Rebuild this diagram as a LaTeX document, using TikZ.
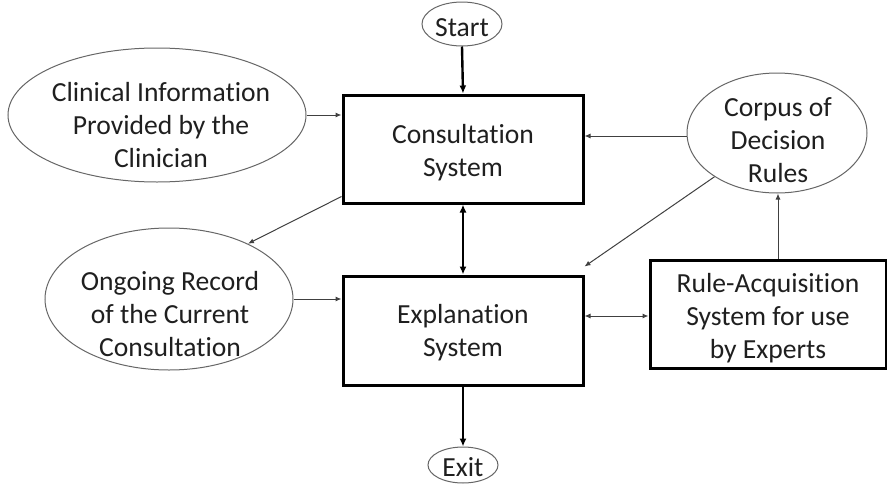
\documentclass[tikz,border=0pt]{standalone}
\usepackage{fontspec}
\setmainfont[Ligatures=NoCommon]{Carlito}
\usetikzlibrary{shapes.geometric,arrows.meta}
\begin{document}
\begin{tikzpicture}[x=1pt,y=-1pt,
  every node/.style={font=\fontsize{27.6}{33}\selectfont, text=black!88, align=center, inner sep=0pt},
  oval/.style={ellipse, draw=black!60, line width=1pt},
  sysbox/.style={rectangle, draw=black, line width=3pt},
  thick arrow/.style={line width=2.4pt, -{Latex[length=8pt,width=7pt]}},
  thin arrow/.style={line width=1pt, draw=black!75, -{Latex[length=6pt,width=5pt]}},
  thin both/.style={line width=1pt, draw=black!75, {Latex[length=6pt,width=5pt]}-{Latex[length=6pt,width=5pt]}},
  thick both/.style={line width=2.4pt, {Latex[length=8pt,width=7pt]}-{Latex[length=8pt,width=7pt]}}]
\useasboundingbox (0,0) rectangle (887,485);
% shapes
\node[oval, minimum width=80pt, minimum height=44pt] (start) at (462,24) {};
\node[sysbox, minimum width=240pt, minimum height=108pt] (consult) at (463,149) {};
\node[oval, minimum width=298pt, minimum height=134pt] (clin) at (157,115) {};
\node[oval, minimum width=180pt, minimum height=120pt] (corpus) at (777,133) {};
\node[oval, minimum width=248pt, minimum height=142pt] (ongoing) at (169,299) {};
\node[sysbox, minimum width=240pt, minimum height=109pt] (expl) at (463,330.5) {};
\node[sysbox, minimum width=236pt, minimum height=108pt] (rule) at (768,314) {};
\node[oval, minimum width=70pt, minimum height=36pt] (exit) at (463,465) {};
% texts
\node (start-t) at (462,28) {Start};
\node (consult-t) at (463,153) {Consultation\\System};
\node (clin-t) at (161,125) {Clinical Information\\Provided by the\\Clinician};
\node (corpus-t) at (778,140) {Corpus of\\Decision\\Rules};
\node (ongoing-t) at (170,314) {Ongoing Record\\of the Current\\Consultation};
\node (expl-t) at (463,333) {Explanation\\System};
\node (rule-t) at (768,318) {Rule-Acquisition\\System for use\\by Experts};
\node (exit-t) at (463,467) {Exit};
% connectors
\draw[thick arrow] (start.south) -- (consult.north);
\draw[thick both] (consult.south) -- (expl.north);
\draw[thick arrow] (expl.south) -- (exit.north);
\draw[thin arrow] (clin.east) -- (consult.west |- clin.east);
\coordinate (cw) at ([yshift=-3pt]corpus.west);
\draw[thin arrow] (cw) -- (consult.east |- cw);
\draw[thin arrow] ([yshift=8pt]consult.south west) -- (ongoing.35);
\draw[thin arrow] (ongoing.east) -- (expl.west |- ongoing.east);
\draw[thin arrow] (corpus.215) -- ([yshift=8pt]expl.north east);
\coordinate (rw) at ([yshift=-2pt]rule.west);
\draw[thin both] (expl.east |- rw) -- (rw);
\coordinate (rtop) at ([xshift=10pt]rule.north);
\draw[thin arrow] (rtop) -- (rtop |- corpus.south);
\end{tikzpicture}
\end{document}
